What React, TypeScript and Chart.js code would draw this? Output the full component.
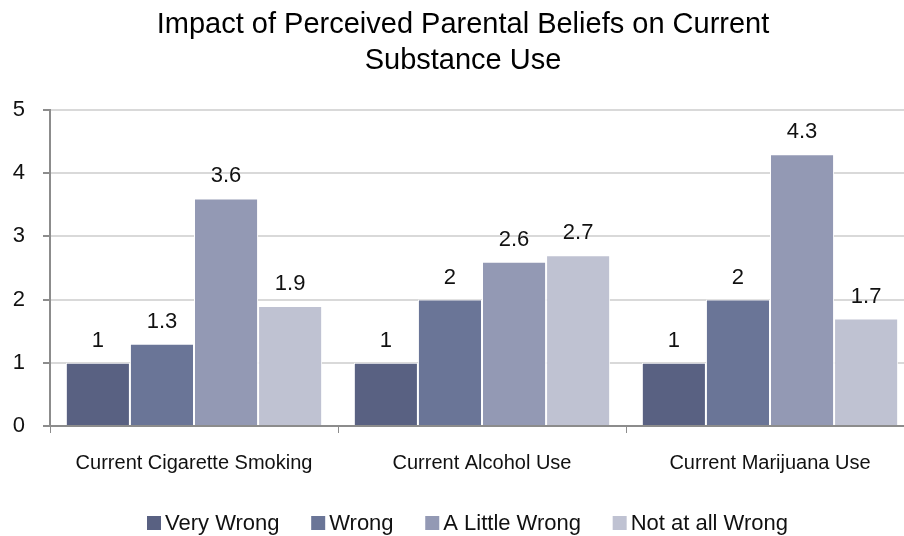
import React, { useEffect, useRef } from "react";
import { Chart, registerables } from "chart.js";

Chart.register(...registerables);

const categories = ["Current Cigarette Smoking", "Current Alcohol Use", "Current Marijuana Use"];
const seriesNames = ["Very Wrong", "Wrong", "A Little Wrong", "Not at all Wrong"];
const veryWrong = [1, 1, 1];
const wrong = [1.3, 2, 2];
const aLittleWrong = [3.6, 2.6, 4.3];
const notAtAllWrong = [1.9, 2.7, 1.7];
const seriesColors = ["#596182", "#6a7597", "#9399b4", "#bfc2d2"];
const yTicks = [0, 1, 2, 3, 4, 5];
const titleLines = ["Impact of Perceived Parental Beliefs on Current", "Substance Use"];

const font = "'Liberation Sans', Arial, sans-serif";

// Two-line title drawn centred over the plot.
const titlePlugin = {
  id: "customTitle",
  afterDraw(chart: any) {
    const ctx = chart.ctx;
    ctx.save();
    ctx.font = `29px ${font}`;
    ctx.fillStyle = "#000";
    ctx.textAlign = "center";
    ctx.textBaseline = "alphabetic";
    titleLines.forEach((line, i) => ctx.fillText(line, 463, 33 + i * 36));
    ctx.restore();
  },
};

// Legend row along the bottom: small square swatch followed by the series name.
const legendPlugin = {
  id: "customLegend",
  afterDraw(chart: any) {
    const ctx = chart.ctx;
    ctx.save();
    ctx.font = `22px ${font}`;
    ctx.textBaseline = "middle";
    ctx.textAlign = "left";
    const box = 14;
    const gapText = 4;
    const left = 147;
    const right = 788;
    const widths = seriesNames.map((n) => ctx.measureText(n).width);
    const used = widths.reduce((s, w) => s + box + gapText + w, 0);
    const itemGap = (right - left - used) / (seriesNames.length - 1);
    let x = left;
    const cy = 523;
    seriesNames.forEach((name, i) => {
      ctx.fillStyle = seriesColors[i];
      ctx.fillRect(x, cy - box / 2, box, box);
      ctx.fillStyle = "#111";
      ctx.fillText(name, x + box + gapText, cy + 1);
      x += box + gapText + widths[i] + itemGap;
    });
    ctx.restore();
  },
};

const valueLabels = {
  id: "valueLabels",
  afterDatasetsDraw(chart: any) {
    const ctx = chart.ctx;
    ctx.save();
    ctx.font = `22px ${font}`;
    ctx.fillStyle = "#111";
    ctx.textAlign = "center";
    ctx.textBaseline = "alphabetic";
    chart.data.datasets.forEach((ds: any, i: number) => {
      const meta = chart.getDatasetMeta(i);
      meta.data.forEach((bar: any, j: number) => {
        ctx.fillText(String(ds.data[j]), bar.x, bar.y - 16);
      });
    });
    ctx.restore();
  },
};

export default function App() {
  const ref = useRef<HTMLCanvasElement | null>(null);

  useEffect(() => {
    if (!ref.current) return;
    const allSeries = [veryWrong, wrong, aLittleWrong, notAtAllWrong];
    const chart = new Chart(ref.current, {
      type: "bar",
      data: {
        labels: categories,
        datasets: allSeries.map((values, i) => ({
          label: seriesNames[i],
          data: values,
          backgroundColor: seriesColors[i],
          borderColor: "#ffffff",
          borderWidth: 1,
          categoryPercentage: 0.89,
          barPercentage: 1,
        })),
      },
      options: {
        animation: false,
        responsive: false,
        devicePixelRatio: 1,
        layout: { padding: { left: 4, right: 6, top: 110, bottom: 58 } },
        plugins: {
          title: { display: false },
          legend: { display: false },
          tooltip: { enabled: false },
        },
        scales: {
          x: {
            afterFit: (axis: any) => {
              axis.height = 52;
            },
            grid: {
              display: true,
              drawOnChartArea: false,
              drawTicks: true,
              tickLength: 7,
              color: "#8c8c8c",
            },
            border: { color: "#8c8c8c", width: 2 },
            ticks: {
              color: "#111",
              font: { family: font, size: 20 },
              padding: 18,
            },
          },
          y: {
            min: 0,
            max: 5,
            afterFit: (axis: any) => {
              axis.width = 46;
            },
            afterBuildTicks: (axis: any) => {
              axis.ticks = yTicks.map((v) => ({ value: v }));
            },
            grid: {
              color: "#d9d9d9",
              lineWidth: 2,
              drawTicks: true,
              tickLength: 7,
              tickColor: "#8c8c8c",
            },
            border: { color: "#8c8c8c", width: 2 },
            ticks: {
              color: "#111",
              font: { family: font, size: 22 },
              padding: 18,
            },
          },
        },
      },
      plugins: [valueLabels, titlePlugin, legendPlugin],
    });
    return () => chart.destroy();
  }, []);

  return (
    <div style={{ position: "absolute", left: 0, top: 0, width: 920, height: 536, background: "#fff" }}>
      <canvas ref={ref} width={920} height={536} />
    </div>
  );
}
